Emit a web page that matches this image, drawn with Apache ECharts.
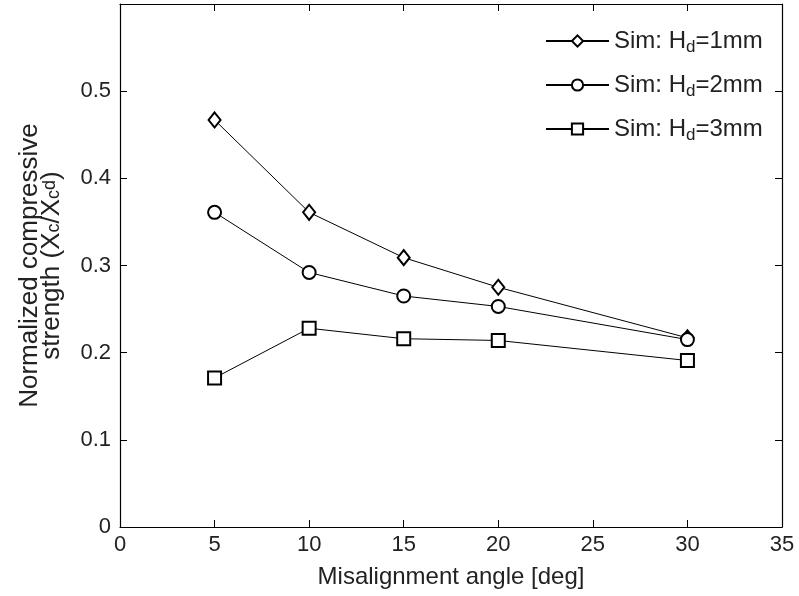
<!DOCTYPE html>
<html>
<head>
<meta charset="utf-8">
<script src="https://cdn.jsdelivr.net/npm/echarts@6/dist/echarts.min.js"></script>
<style>
  html, body { margin: 0; padding: 0; background: #fff; }
  #chart { width: 799px; height: 596px; }
</style>
</head>
<body>
<div id="chart"></div>
<script>
// misalignment angles (deg)
var angles = [5, 10, 15, 20, 30];
// normalized compressive strength
var hd1 = [0.467, 0.361, 0.309, 0.275, 0.217];
var hd2 = [0.361, 0.292, 0.265, 0.253, 0.215];
var hd3 = [0.171, 0.228, 0.216, 0.214, 0.191];
var seriesNames = ['Sim: H_d=1mm', 'Sim: H_d=2mm', 'Sim: H_d=3mm'];
var symbols = ['emptyDiamond', 'emptyCircle', 'emptyRect'];

var font = 'Liberation Sans, Arial, sans-serif';
var txt = '#222';

function pairs(ys) {
  return angles.map(function (x, i) { return [x, ys[i]]; });
}

// rich styles for sub/superscripts (legend + y name)
// small token lineHeight + bottom/top align pushes it down/up inside the line box
function richSet(size, lh) {
  var small = Math.round(size * 0.7);
  return {
    n: { fontSize: size, fontFamily: font, color: txt, lineHeight: lh },
    s: { fontSize: small, fontFamily: font, color: txt, lineHeight: 4, verticalAlign: 'bottom' },
    p: { fontSize: small, fontFamily: font, color: txt, lineHeight: 10, verticalAlign: 'top' }
  };
}

var chart = echarts.init(document.getElementById('chart'));

var axisCommon = {
  type: 'value',
  axisLine: { show: true, onZero: false, lineStyle: { color: '#000', width: 1.2 } },
  axisTick: { show: true, inside: true, length: 7, lineStyle: { color: '#000' } },
  splitLine: { show: false }
};

var option = {
  backgroundColor: '#fff',
  animation: false,
  grid: { left: 120, right: 17, top: 4, bottom: 69 },
  legend: {
    orient: 'vertical',
    left: 540,
    top: 24,
    itemWidth: 63,
    itemHeight: 14,
    itemGap: 17,
    textStyle: { rich: richSet(24, 30) },
    formatter: function (name) {
      var parts = name.split('_d');
      return '{n|' + parts[0] + '}{s|d}{n|' + parts[1] + '}';
    },
    data: seriesNames
  },
  xAxis: [
    Object.assign({}, axisCommon, {
      position: 'bottom', min: 0, max: 35, interval: 5,
      axisLabel: { fontSize: 22, fontFamily: font, color: txt, margin: 7 },
      name: 'Misalignment angle [deg]',
      nameLocation: 'middle',
      nameGap: 38,
      nameTextStyle: { fontSize: 24, fontFamily: font, color: txt }
    }),
    Object.assign({}, axisCommon, {
      position: 'top', min: 0, max: 35, interval: 5,
      axisLabel: { show: false }
    })
  ],
  yAxis: [
    Object.assign({}, axisCommon, {
      position: 'left', min: 0, max: 0.6, interval: 0.1,
      axisLabel: { fontSize: 22, fontFamily: font, color: txt, margin: 9, showMaxLabel: false },
      name: '{n|Normalized compressive}\n{n|strength (X}{s|c}{n|/X}{s|c}{p|d}{n|)}',
      nameLocation: 'middle',
      nameGap: 57,
      nameRotate: 90,
      nameTextStyle: { rich: richSet(26, 22), align: 'center' }
    }),
    Object.assign({}, axisCommon, {
      position: 'right', min: 0, max: 0.6, interval: 0.1,
      axisLabel: { show: false }
    })
  ],
  series: [hd1, hd2, hd3].map(function (ys, i) {
    return {
      name: seriesNames[i],
      type: 'line',
      data: pairs(ys),
      symbol: symbols[i],
      symbolSize: i === 0 ? [12, 15] : 13,
      showAllSymbol: true,
      lineStyle: { color: '#000', width: 1 },
      itemStyle: { color: '#000', borderColor: '#000', borderWidth: 1 }
    };
  })
};

chart.setOption(option);
</script>
</body>
</html>
